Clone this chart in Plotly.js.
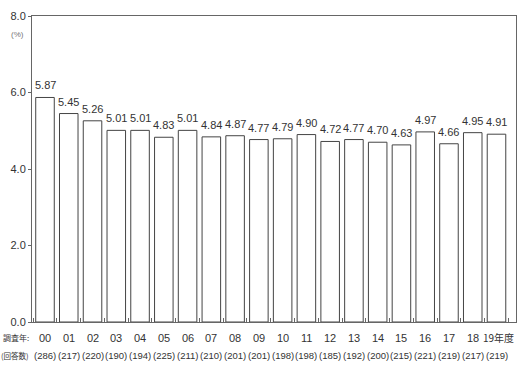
<!DOCTYPE html>
<html><head><meta charset="utf-8">
<script src="https://cdn.plot.ly/plotly-3.0.1.min.js"></script>
<style>body{margin:0;background:#fff}#c{width:520px;height:371px}</style>
</head><body><div id="c"></div>
<script>
const years = ["00","01","02","03","04","05","06","07","08","09","10","11","12","13","14","15","16","17","18","19年度"];
const responses = [286,217,220,190,194,225,211,210,201,201,198,198,185,192,200,215,221,219,217,219];
const values = [5.87,5.45,5.26,5.01,5.01,4.83,5.01,4.84,4.87,4.77,4.79,4.90,4.72,4.77,4.70,4.63,4.97,4.66,4.95,4.91];

const cats = years.map((y,i)=>y+"|"+i);
const fontFam = "'Liberation Sans', Arial, sans-serif";
const cjk = "'Noto Sans CJK JP', sans-serif";

const trace = {
  type:"bar", x:cats, y:values,
  marker:{color:"#fff", line:{color:"#444", width:1}},
  width:0.78, hoverinfo:"none"
};
const annotations = [];
values.forEach((v,i)=>{
  annotations.push({x:cats[i], y:v, xref:"x", yref:"y", text:v.toFixed(2), showarrow:false,
    yanchor:"bottom", yshift:4, font:{family:fontFam, size:11, color:"#333"}});
});
years.forEach((y,i)=>{
  const last = i === years.length-1;
  annotations.push({x:cats[i], y:-0.052, xref:"x", yref:"paper", text:y, showarrow:false,
    yanchor:"middle", xshift:last?2:0, font:{family:last?cjk:fontFam, size:last?10:11, color:"#333"}});
  annotations.push({x:cats[i], y:-0.108, xref:"x", yref:"paper", text:"("+responses[i]+")", showarrow:false,
    yanchor:"middle", font:{family:fontFam, size:9.5, color:"#333"}});
});
annotations.push(
  {text:"(%)", xref:"paper", yref:"paper", x:-0.03, y:0.94, xanchor:"center", yanchor:"middle", showarrow:false, font:{size:8, color:"#777", family:fontFam}},
  {text:"調査年:", xref:"paper", yref:"paper", x:-0.003, y:-0.052, xanchor:"right", yanchor:"middle", showarrow:false, font:{size:8, color:"#333", family:cjk}},
  {text:"(回答数)", xref:"paper", yref:"paper", x:-0.003, y:-0.108, xanchor:"right", yanchor:"middle", showarrow:false, font:{size:7.5, color:"#333", family:cjk}}
);
const layout = {
  width:520, height:371, margin:{l:32, r:4, t:16, b:49},
  paper_bgcolor:"#fff", plot_bgcolor:"#fff", showlegend:false,
  font:{family:fontFam, color:"#333", size:11},
  xaxis:{type:"category", showticklabels:false, tickson:"boundaries",
    ticks:"inside", ticklen:4, tickcolor:"#666", showline:true, linecolor:"#666", linewidth:1, mirror:true,
    showgrid:false, fixedrange:true},
  yaxis:{range:[0,8], tickvals:[0,2,4,6,8], ticktext:["0.0","2.0","4.0","6.0","8.0"],
    ticks:"outside", ticklen:3, tickcolor:"#666", showline:true, linecolor:"#666", linewidth:1, mirror:true,
    showgrid:false, zeroline:false, tickfont:{family:fontFam, size:11, color:"#333"}, fixedrange:true},
  annotations:annotations
};
Plotly.newPlot("c",[trace],layout,{displayModeBar:false,staticPlot:true});
</script></body></html>
